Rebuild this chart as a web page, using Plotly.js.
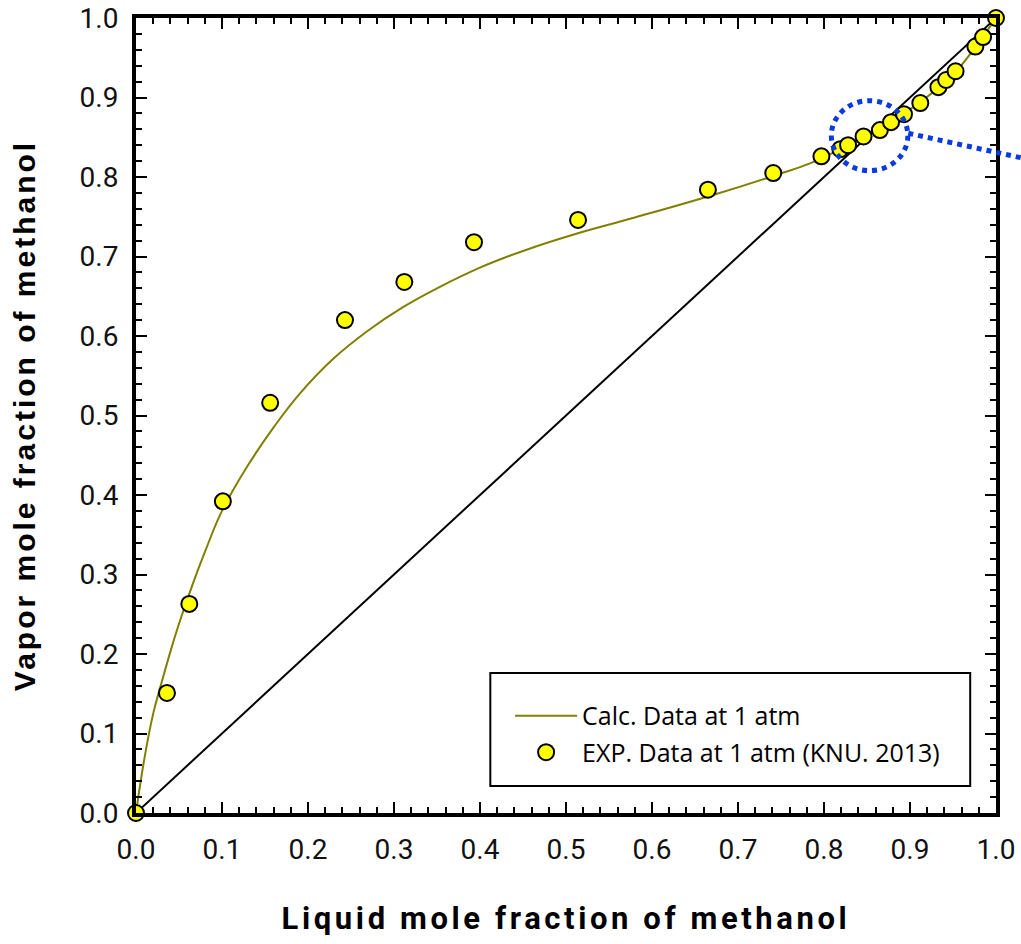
<!DOCTYPE html>
<html>
<head>
<meta charset="utf-8">
<script src="https://cdn.plot.ly/plotly-3.0.1.min.js"></script>
<style>
html,body{margin:0;padding:0;background:#fff;}
#chart{width:1021px;height:944px;}
#chart .xtitle{letter-spacing:3.6px;}
#chart .ytitle{letter-spacing:3px;}
</style>
</head>
<body>
<div id="chart"></div>
<script>
// Calculated curve
const calcX = [0, 0.01, 0.02, 0.03, 0.04, 0.05, 0.065, 0.08, 0.10, 0.13, 0.16, 0.19, 0.23, 0.27, 0.31, 0.35, 0.40, 0.45, 0.51, 0.58, 0.67, 0.74, 0.79, 0.85, 0.90, 0.95, 0.975, 1.0];
const calcY = [0, 0.07, 0.125, 0.165, 0.203, 0.238, 0.285, 0.328, 0.38, 0.437, 0.485, 0.527, 0.572, 0.607, 0.636, 0.660, 0.686, 0.707, 0.728, 0.749, 0.777, 0.801, 0.82, 0.853, 0.885, 0.929, 0.962, 1.0];
// Experimental points
const expX = [0, 0.036, 0.062, 0.101, 0.156, 0.243, 0.312, 0.393, 0.514, 0.665, 0.741, 0.797, 0.819, 0.828, 0.846, 0.865, 0.878, 0.893, 0.912, 0.933, 0.942, 0.953, 0.976, 0.985, 1.0];
const expY = [0, 0.151, 0.263, 0.392, 0.516, 0.620, 0.668, 0.718, 0.746, 0.784, 0.805, 0.826, 0.835, 0.840, 0.851, 0.859, 0.869, 0.879, 0.893, 0.913, 0.922, 0.933, 0.964, 0.976, 1.0];
const diagX = [0, 1];
const diagY = [0, 1];
const tickVals = [0, 0.1, 0.2, 0.3, 0.4, 0.5, 0.6, 0.7, 0.8, 0.9, 1.0];
const tickText = ['0.0','0.1','0.2','0.3','0.4','0.5','0.6','0.7','0.8','0.9','1.0'];

const traces = [
  {x: diagX, y: diagY, mode: 'lines', line: {color: '#000', width: 2}, showlegend: false, hoverinfo: 'skip'},
  {x: calcX, y: calcY, mode: 'lines', name: 'Calc. Data at 1 atm', legendgroup: 'a',
   line: {color: '#808000', width: 2, shape: 'spline', smoothing: 1.2}},
  {x: expX, y: expY, mode: 'markers', name: 'EXP. Data at 1 atm (KNU. 2013)', legendgroup: 'b', cliponaxis: false,
   marker: {color: '#ffff00', size: 16, line: {color: '#000', width: 2}}}
];

const axisCommon = {
  range: [0, 1], tickvals: tickVals, ticktext: tickText,
  ticks: 'inside', ticklen: 11, tickwidth: 2, tickcolor: '#000',
  minor: {dtick: 0.02, ticks: 'inside', ticklen: 6, tickwidth: 2, tickcolor: '#000'},
  showline: true, linewidth: 4, linecolor: '#000', mirror: 'allticks',
  showgrid: false, zeroline: false,
  tickfont: {family: 'Roboto, sans-serif', size: 28, color: '#111'}
};

const layout = {
  width: 1021, height: 944,
  margin: {l: 136, r: 25, t: 18, b: 131},
  paper_bgcolor: '#fff', plot_bgcolor: '#fff',
  showlegend: true,
  xaxis: Object.assign({}, axisCommon, {
    ticklabelstandoff: 8,
    title: {text: 'Liquid mole fraction of methanol', standoff: 44,
            font: {family: 'Roboto, sans-serif', size: 31, color: '#000', weight: 'bold'}}
  }),
  yaxis: Object.assign({}, axisCommon, {
    ticklabelstandoff: 8,
    title: {text: 'Vapor mole fraction of methanol', standoff: 36,
            font: {family: 'Liberation Sans, Arial, sans-serif', size: 30, color: '#000', weight: 'bold'}}
  }),
  legend: {x: 0.435, y: 0.151, xanchor: 'left', yanchor: 'top', bgcolor: 'rgba(0,0,0,0)',
           itemwidth: 62, tracegroupgap: 1,
           font: {family: 'Open Sans, sans-serif', size: 25, color: '#000'}},
  shapes: [
    {type: 'rect', xref: 'paper', yref: 'paper', x0: 0.412, x1: 0.970, y0: 0.034, y1: 0.176,
     line: {color: '#000', width: 2}, fillcolor: 'rgba(0,0,0,0)'},
    {type: 'circle', xref: 'x', yref: 'y', x0: 0.853 - 0.0445, x1: 0.853 + 0.0445, y0: 0.852 - 0.044, y1: 0.852 + 0.044,
     line: {color: '#0a3be0', width: 5, dash: 'dot'}},
    {type: 'line', xref: 'paper', yref: 'paper', x0: 0.898, y0: 0.855, x1: 1.03, y1: 0.824,
     line: {color: '#0a3be0', width: 5, dash: 'dot'}}
  ]
};

Plotly.newPlot('chart', traces, layout, {displayModeBar: false, staticPlot: true});
</script>
</body>
</html>
